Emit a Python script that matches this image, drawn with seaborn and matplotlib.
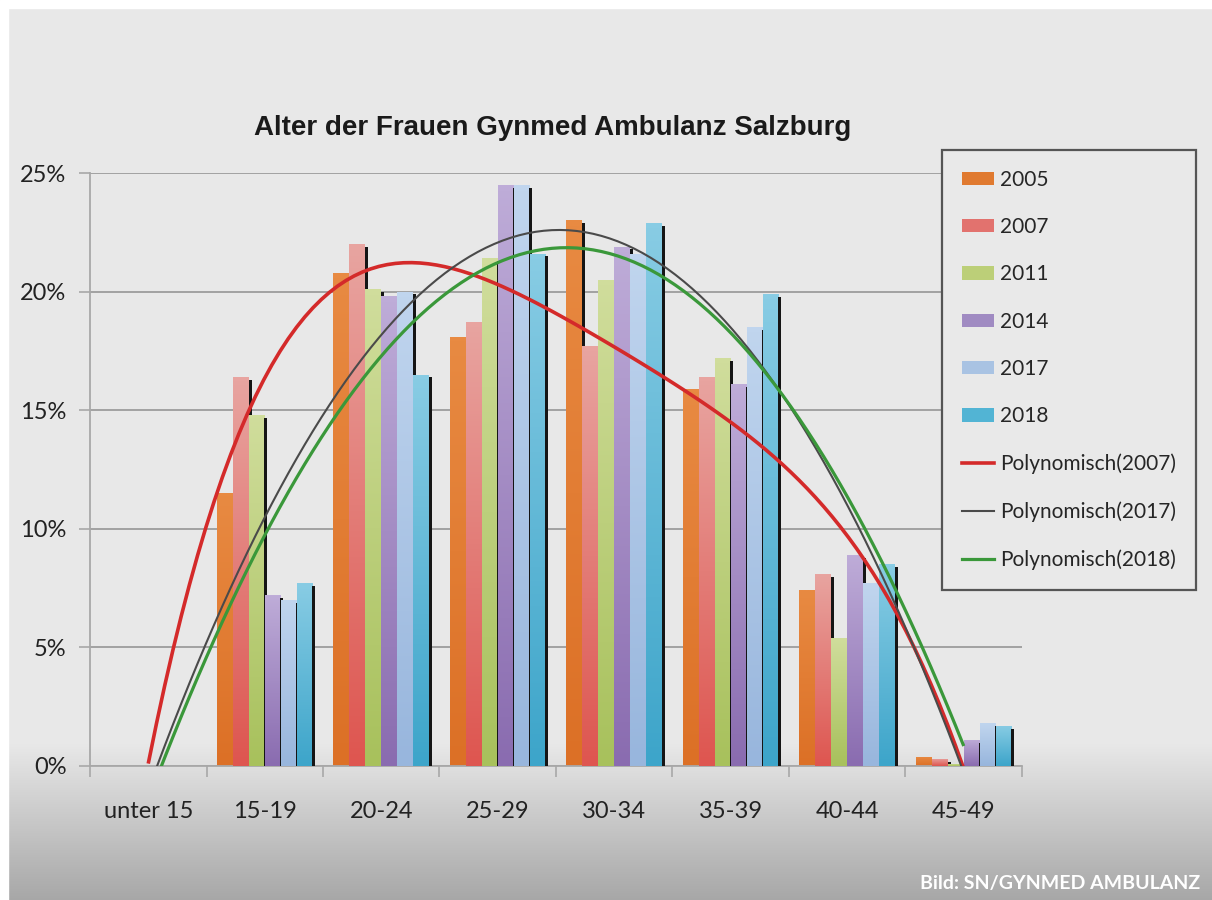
import numpy as np
import pandas as pd
import matplotlib
matplotlib.use("Agg")
import matplotlib.pyplot as plt
import seaborn as sns
from matplotlib.patches import Rectangle, Patch
from matplotlib.lines import Line2D
from matplotlib.ticker import FixedLocator, FuncFormatter
from matplotlib.colors import LinearSegmentedColormap

# ---------------- data ----------------
categories = ["unter 15", "15-19", "20-24", "25-29", "30-34", "35-39", "40-44", "45-49"]
years = ["2005", "2007", "2011", "2014", "2017", "2018"]
v2005 = [0, 11.5, 20.8, 18.1, 23.0, 15.9, 7.4, 0.4]
v2007 = [0, 16.4, 22.0, 18.7, 17.7, 16.4, 8.1, 0.3]
v2011 = [0, 14.8, 20.1, 21.4, 20.5, 17.2, 5.4, 0.1]
v2014 = [0, 7.2, 19.8, 24.5, 21.9, 16.1, 8.9, 1.1]
v2017 = [0, 7.0, 20.0, 24.5, 21.6, 18.5, 7.7, 1.8]
v2018 = [0, 7.7, 16.5, 21.6, 22.9, 19.9, 8.5, 1.7]
y_ticks = [0, 5, 10, 15, 20, 25]
trend_years = ["2007", "2017", "2018"]
trend_orders = [4, 2, 2]
title = "Alter der Frauen Gynmed Ambulanz Salzburg"
credit = "Bild: SN/GYNMED AMBULANZ"

series = dict(zip(years, [v2005, v2007, v2011, v2014, v2017, v2018]))
bar_colors = ["#E07A30", "#E2726E", "#BCCF78", "#A08BC2", "#A9C3E3", "#52B4D4"]
grad_top = ["#E88A42", "#E8A4A0", "#D0DD9C", "#BEACD8", "#C0D5EE", "#88CCE4"]
grad_bot = ["#DC7026", "#DE5650", "#A8C15C", "#8A6CB0", "#98B6DD", "#3DA5CA"]
trend_colors = ["#D42A2A", "#4A4A4A", "#3A983A"]
trend_widths = [2.6, 1.5, 2.3]

df = pd.DataFrame(
    [(c, y, series[y][i]) for y in years for i, c in enumerate(categories)],
    columns=["Alter", "Jahr", "Anteil"],
)

# ---------------- figure ----------------
W, H = 1212, 900
fig = plt.figure(figsize=(W / 100, H / 100), dpi=100)
fig.patch.set_facecolor("white")

# background with bottom gradient
bg = fig.add_axes([0, 0, 1, 1], zorder=-10)
rows = np.arange(H)
shade = np.full(H, 0.913)
start, end = 742, 900
m = rows >= start
shade[m] = 0.913 - (rows[m] - start) / (end - start) * (0.913 - 0.655)
img = np.repeat(shade[:, None], 2, axis=1)
bg.imshow(np.dstack([img, img, img]), extent=[0, W, H, 0], aspect="auto")
bg.add_patch(Rectangle((0, 0), 8, H, color="white"))
bg.add_patch(Rectangle((0, 0), W, 8, color="white"))
bg.set_xlim(0, W)
bg.set_ylim(H, 0)
bg.axis("off")

ax = fig.add_axes([90 / W, 1 - 766 / H, (1022 - 90) / W, (766 - 173) / H])
ax.set_facecolor("none")

sns.barplot(
    data=df, x="Alter", y="Anteil", hue="Jahr", order=categories, hue_order=years,
    palette=bar_colors, saturation=1, width=0.82, gap=0, ax=ax, legend=False,
    linewidth=0, errorbar=None,
)

# bar gradient fill, zorder and dark right-edge shadows
grad = np.linspace(0, 1, 64)[:, None]
for i, cont in enumerate(ax.containers):
    cmap = LinearSegmentedColormap.from_list(f"g{i}", [grad_bot[i], grad_top[i]])
    for p in cont.patches:
        p.set_zorder(2 + 2 * i)
        h = p.get_height()
        if h <= 0:
            continue
        x0, bw = p.get_x(), p.get_width()
        im = ax.imshow(grad, cmap=cmap, extent=[x0, x0 + bw, 0, h], origin="lower",
                       aspect="auto", interpolation="bilinear", zorder=2.5 + 2 * i)
        im.set_clip_path(p)
        if h <= 0.15:
            continue
        sx = x0 + bw - bw * 0.02
        ax.add_patch(Rectangle((sx, 0), bw * 0.19, h - 0.12, facecolor="#151515",
                               edgecolor="none", zorder=3 + 2 * i))

# polynomial trend lines
xpos = np.arange(len(categories))
for yr, order, col, lw in zip(trend_years, trend_orders, trend_colors, trend_widths):
    sns.regplot(x=xpos, y=np.array(series[yr], dtype=float), order=order, ci=None,
                scatter=False, truncate=True, ax=ax,
                line_kws=dict(color=col, lw=lw, zorder=30, solid_capstyle="butt"))

ax.set_xlim(-0.5, len(categories) - 0.5)
ax.set_ylim(0, 25)
ax.set_aspect("auto")
ax.set_xlabel("")
ax.set_ylabel("")

tick_font = "Lato"
ax.yaxis.set_major_locator(FixedLocator(y_ticks))
ax.yaxis.set_major_formatter(FuncFormatter(lambda v, _: f"{int(v)}%"))
ax.xaxis.set_major_locator(FixedLocator(xpos))
ax.set_xticklabels(categories)
ax.xaxis.set_minor_locator(FixedLocator(np.arange(-0.5, len(categories), 1.0)))
ax.tick_params(axis="x", which="major", length=0, pad=25, labelsize=17, labelcolor="#222222")
ax.tick_params(axis="x", which="minor", length=8, width=1.2, color="#A8A8A8", direction="out")
ax.tick_params(axis="y", which="major", length=8, width=1.2, color="#A8A8A8", pad=9,
               labelsize=17, labelcolor="#222222")
for lab in ax.get_xticklabels() + ax.get_yticklabels():
    lab.set_fontfamily(tick_font)

ax.grid(axis="y", color="#9C9C9C", lw=1.3, zorder=0)
ax.grid(axis="x", visible=False)
ax.set_axisbelow(True)
for s in ["top", "right"]:
    ax.spines[s].set_visible(False)
for s in ["left", "bottom"]:
    ax.spines[s].set_color("#A8A8A8")
    ax.spines[s].set_linewidth(1.3)

fig.text(553 / W, 1 - 128 / H, title, ha="center", va="center",
         fontsize=20, fontweight="bold", family="Liberation Sans", color="#1A1A1A")
fig.text(1200 / W, 1 - 884 / H, credit, ha="right", va="center",
         fontsize=14, fontweight="bold", family="Lato", color="white")

# legend
handles = [Patch(facecolor=c, edgecolor="none") for c in bar_colors]
handles += [Line2D([0], [0], color=c, lw=lw) for c, lw in zip(trend_colors, trend_widths)]
labels = years + [f"Polynomisch({y})" for y in trend_years]
leg = fig.legend(handles, labels, loc="upper left",
                 bbox_to_anchor=(942 / W, 1 - 150 / H), bbox_transform=fig.transFigure,
                 borderaxespad=0, frameon=True, fancybox=False, framealpha=1,
                 facecolor="#E9E9E9", edgecolor="#555555",
                 prop=dict(family="Lato", size=15), labelspacing=1.31,
                 handlelength=1.55, handleheight=0.6, handletextpad=0.3, borderpad=0.95)
leg.get_frame().set_linewidth(1.6)
for t in leg.get_texts():
    t.set_color("#262626")

fig.savefig("out.png", dpi=100)
